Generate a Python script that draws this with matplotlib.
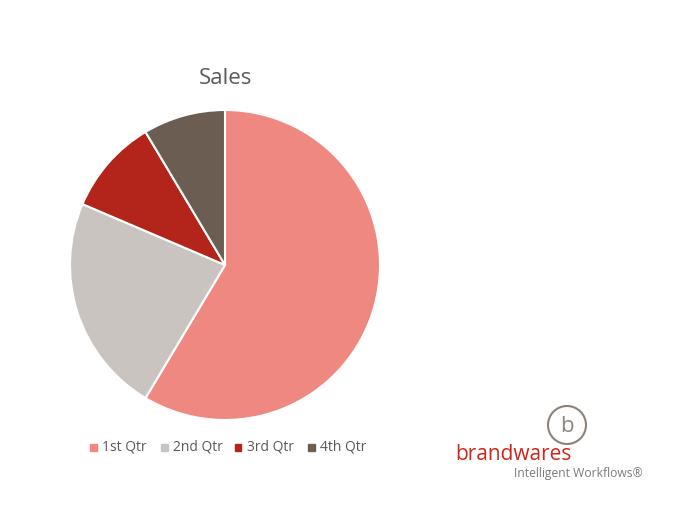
import matplotlib
matplotlib.use('Agg')
import matplotlib.pyplot as plt
from matplotlib.patches import Ellipse, Rectangle

plt.rcParams['font.family'] = ['Open Sans', 'DejaVu Sans']

# Datos
trimestres = ['1st Qtr', '2nd Qtr', '3rd Qtr', '4th Qtr']
ventas = [8.2, 3.2, 1.4, 1.2]
colores = ['#EF8880', '#C9C4C0', '#B3241A', '#6B5D51']

W, H = 690, 523
fig = plt.figure(figsize=(W / 100, H / 100), dpi=100)
fig.patch.set_facecolor('white')

# Pie: centro (225, 265), radio ~155 px
cx, cy, r = 225, 265, 155
ax = fig.add_axes([(cx - r) / W, (H - cy - r) / H, 2 * r / W, 2 * r / H])
ax.pie(ventas, colors=colores, startangle=90, counterclock=False,
       wedgeprops=dict(edgecolor='white', linewidth=1.5))
ax.set_aspect('auto')
ax.set_xlim(-1, 1)
ax.set_ylim(-1, 1)
ax.axis('off')

fig.text(cx / W, 1 - 78 / H, 'Sales', ha='center', va='center',
         fontsize=16, color='#595959')

# Leyenda manual
leg_x = [93, 164, 238, 311]
leg_y = 447
for x, lab, c in zip(leg_x, trimestres, colores):
    fig.patches.append(Rectangle(((x - 3.5) / W, 1 - (leg_y + 3.5) / H), 7 / W, 7 / H,
                                 transform=fig.transFigure, color=c))
    fig.text((x + 9) / W, 1 - leg_y / H, lab, ha='left', va='center',
             fontsize=10, color='#595959')

# Logo brandwares
fig.patches.append(Ellipse((567 / W, 1 - 425 / H), 38 / W, 38 / H, transform=fig.transFigure,
                           fill=False, edgecolor='#8C8279', linewidth=1.5))
fig.text(567 / W, 1 - 426 / H, 'b', ha='center', va='center', fontsize=16,
         color='#8C8279')
fig.text(455 / W, 1 - 454 / H, 'brandwares', ha='left', va='center',
         fontsize=15, color='#D0241C')
fig.text(643 / W, 1 - 473 / H, 'Intelligent Workflows\u00ae', ha='right', va='center',
         fontsize=8.7, color='#7A7A7A')

fig.savefig('out.png', dpi=100)
